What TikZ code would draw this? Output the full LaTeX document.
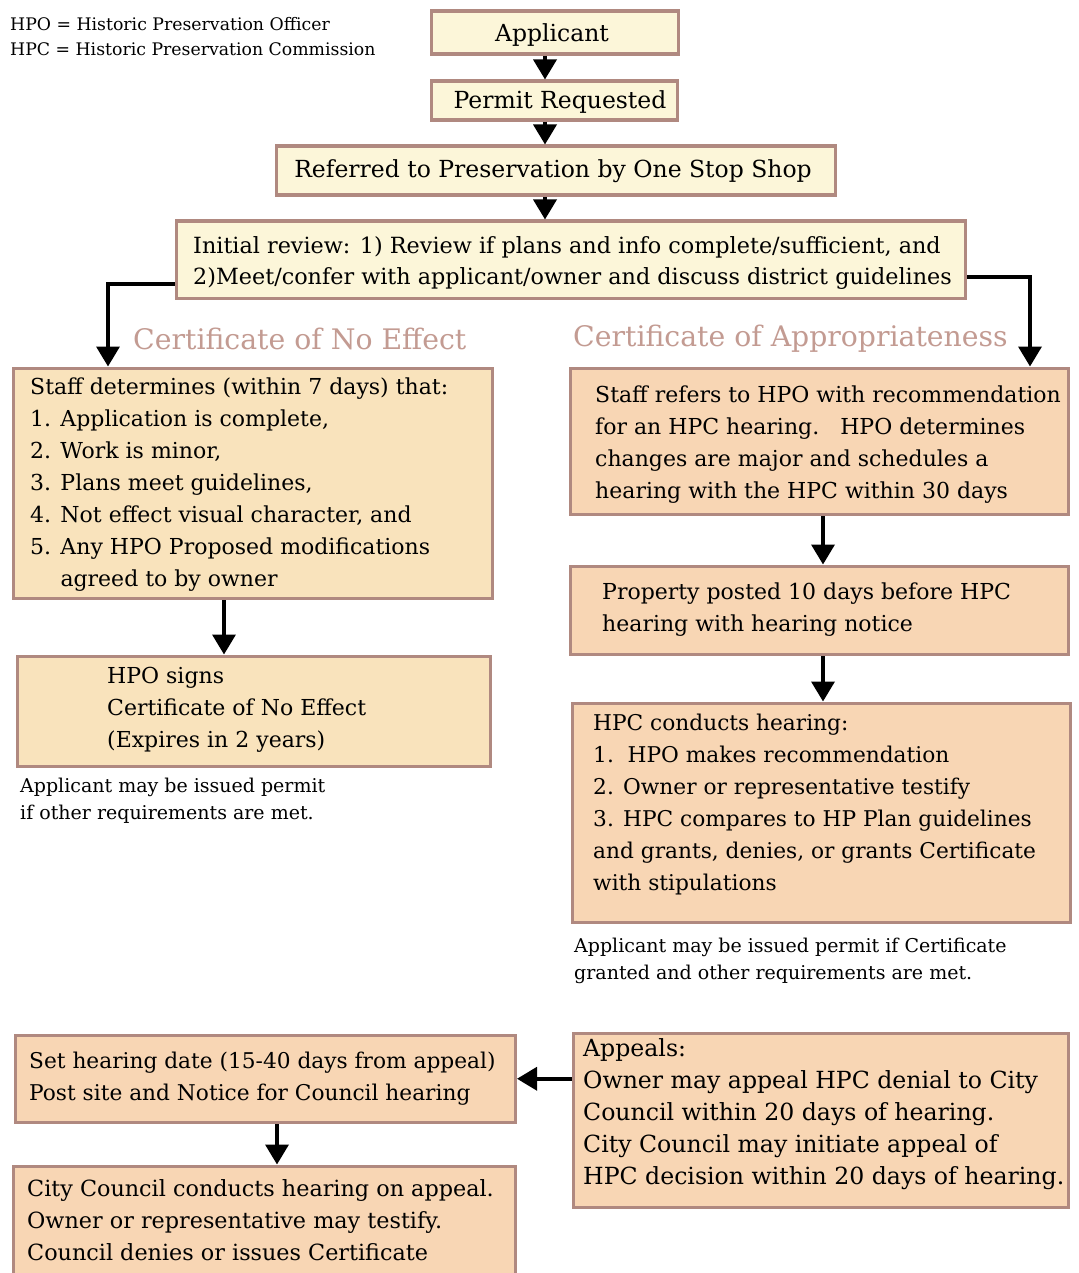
\documentclass[tikz,border=0pt]{standalone}
\usepackage{fontspec}
\setmainfont{DejaVu Serif}
\usetikzlibrary{arrows.meta,calc}
\definecolor{creamc}{HTML}{FCF6D9}
\definecolor{tanc}{HTML}{F9E3BC}
\definecolor{peachc}{HTML}{F8D6B4}
\definecolor{bordc}{HTML}{B08980}
\definecolor{titlec}{HTML}{C39B92}
\newcommand{\mainsz}{\fontsize{22}{32}\selectfont}
\newcommand{\topsz}{\fontsize{23.5}{32}\selectfont}
\newcommand{\notesz}{\fontsize{19}{27}\selectfont}
\tikzset{
  x=1pt, y=-1pt,
  boxbase/.style={draw=bordc, line width=3.5pt, rectangle, inner sep=0pt, anchor=north west},
  creambox/.style={boxbase, fill=creamc},
  tanbox/.style={boxbase, fill=tanc},
  peachbox/.style={boxbase, fill=peachc},
  toptxt/.style={anchor=base, inner sep=0pt, font=\topsz},
  txt/.style={anchor=base west, inner sep=0pt, font=\mainsz},
  notetxt/.style={anchor=base west, inner sep=0pt, font=\notesz},
  titletxt/.style={anchor=base west, inner sep=0pt, text=titlec, font=\fontsize{28.3}{32}\selectfont},
  arr/.style={line width=3.6pt, -{Triangle[length=20pt,width=23pt]}},
}
\newcommand{\blk}[1]{\begin{tabular}[t]{@{}l@{}}#1\end{tabular}}
\begin{document}
\begin{tikzpicture}
\useasboundingbox[fill=white] (0,0) rectangle (1078,1273);
% legend
\node[anchor=base west, inner sep=0pt, font=\fontsize{17.3}{25}\selectfont] (legend) at (10,31)
  {\blk{HPO = Historic Preservation Officer\\HPC = Historic Preservation Commission}};
% top boxes
\node[creambox, minimum width=247pt, minimum height=43pt] (app) at (429.5,9.5) {};
\node[toptxt] (appt) at (552,42) {Applicant};
\node[creambox, minimum width=246pt, minimum height=39pt] (perm) at (429.5,79.5) {};
\node[toptxt] (permt) at (560,109) {Permit Requested};
\node[creambox, minimum width=559pt, minimum height=49pt] (ref) at (274.5,144.5) {};
\node[toptxt] (reft) at (553,178) {Referred to Preservation by One Stop Shop};
\node[creambox, minimum width=789pt, minimum height=77pt] (init) at (174.5,219.5) {};
\node[txt, font=\fontsize{22.3}{32}\selectfont] (initt) at (193,253) {\blk{Initial review: 1) Review if plans and info complete/sufficient, and\\2)Meet/confer with applicant/owner and discuss district guidelines}};
% titles
\node[titletxt] (cne) at (133,349) {Certificate of No Effect};
\node[titletxt] (coa) at (573,346) {Certificate of Appropriateness};
% left column
\node[tanbox, minimum width=479pt, minimum height=230pt] (staffL) at (11.5,366.5) {};
\node[txt] (staffLt) at (30,394) {\blk{Staff determines (within 7 days) that:\\
1. Application is complete,\\
2. Work is minor,\\
3. Plans meet guidelines,\\
4. Not effect visual character, and\\
5. Any HPO Proposed modifications\\
\phantom{5. }agreed to by owner}};
\node[tanbox, minimum width=473pt, minimum height=110pt] (signs) at (15.5,654.5) {};
\node[txt] (signst) at (107,683) {\blk{HPO signs\\Certificate of No Effect\\(Expires in 2 years)}};
\node[notetxt] (noteL) at (20,792) {\blk{Applicant may be issued permit\\if other requirements are met.}};
% right column
\node[peachbox, minimum width=498pt, minimum height=146pt] (staffR) at (568.5,366.5) {};
\node[txt] (staffRt) at (595,402) {\blk{Staff refers to HPO with recommendation\\
for an HPC hearing.\ \ \ HPO determines\\
changes are major and schedules a\\
hearing with the HPC within 30 days}};
\node[peachbox, minimum width=498pt, minimum height=88pt] (posted) at (568.5,564.5) {};
\node[txt] (postedt) at (602,599) {\blk{Property posted 10 days before HPC\\hearing with hearing notice}};
\node[peachbox, minimum width=498pt, minimum height=219pt] (hpc) at (570.5,701.5) {};
\node[txt, font=\fontsize{21.7}{32}\selectfont] (hpct) at (593,730) {\blk{HPC conducts hearing:\\
1.\ \ HPO makes recommendation\\
2. Owner or representative testify\\
3. HPC compares to HP Plan guidelines\\
and grants, denies, or grants Certificate\\
with stipulations}};
\node[notetxt] (noteR) at (574,952) {\blk{Applicant may be issued permit if Certificate\\granted and other requirements are met.}};
% bottom
\node[peachbox, minimum width=500pt, minimum height=87pt] (sethear) at (13.5,1033.5) {};
\node[txt, font=\fontsize{21.7}{32}\selectfont] (sethot) at (29,1068) {\blk{Set hearing date (15-40 days from appeal)\\Post site and Notice for Council hearing}};
\node[peachbox, minimum width=502pt, minimum height=130pt] (council) at (11.5,1164.5) {};
\node[txt, font=\fontsize{22.3}{32}\selectfont] (councilt) at (27,1196) {\blk{City Council conducts hearing on appeal.\\Owner or representative may testify.\\Council denies or issues Certificate}};
\node[peachbox, minimum width=495pt, minimum height=174pt] (appeals) at (571.5,1031.5) {};
\node[txt, font=\fontsize{23.6}{32.2}\selectfont] (appealst) at (583,1056) {\blk{Appeals:\\Owner may appeal HPC denial to City\\Council within 20 days of hearing.\\City Council may initiate appeal of\\HPC decision within 20 days of hearing.}};
% connector coordinates
\coordinate (x545) at (545,0);
\coordinate (xL) at (108,0);
\coordinate (xR) at (1030,0);
\coordinate (xL2) at (224,0);
\coordinate (xR2) at (823,0);
\coordinate (xB) at (277,0);
% connectors
\draw[arr] (app.south -| x545) -- (perm.north -| x545);
\draw[arr] (perm.south -| x545) -- (ref.north -| x545);
\draw[arr] (ref.south -| x545) -- (init.north -| x545);
\draw[arr] ([yshift=-24pt]init.west) -| (staffL.north -| xL);
\draw[arr] ([yshift=-17pt]init.east) -| (staffR.north -| xR);
\draw[arr] (staffL.south -| xL2) -- (signs.north -| xL2);
\draw[arr] (staffR.south -| xR2) -- (posted.north -| xR2);
\draw[arr] (posted.south -| xR2) -- (hpc.north -| xR2);
\draw[arr] (appeals.west |- sethear.east) -- (sethear.east);
\draw[arr] (sethear.south -| xB) -- (council.north -| xB);
\end{tikzpicture}
\end{document}
